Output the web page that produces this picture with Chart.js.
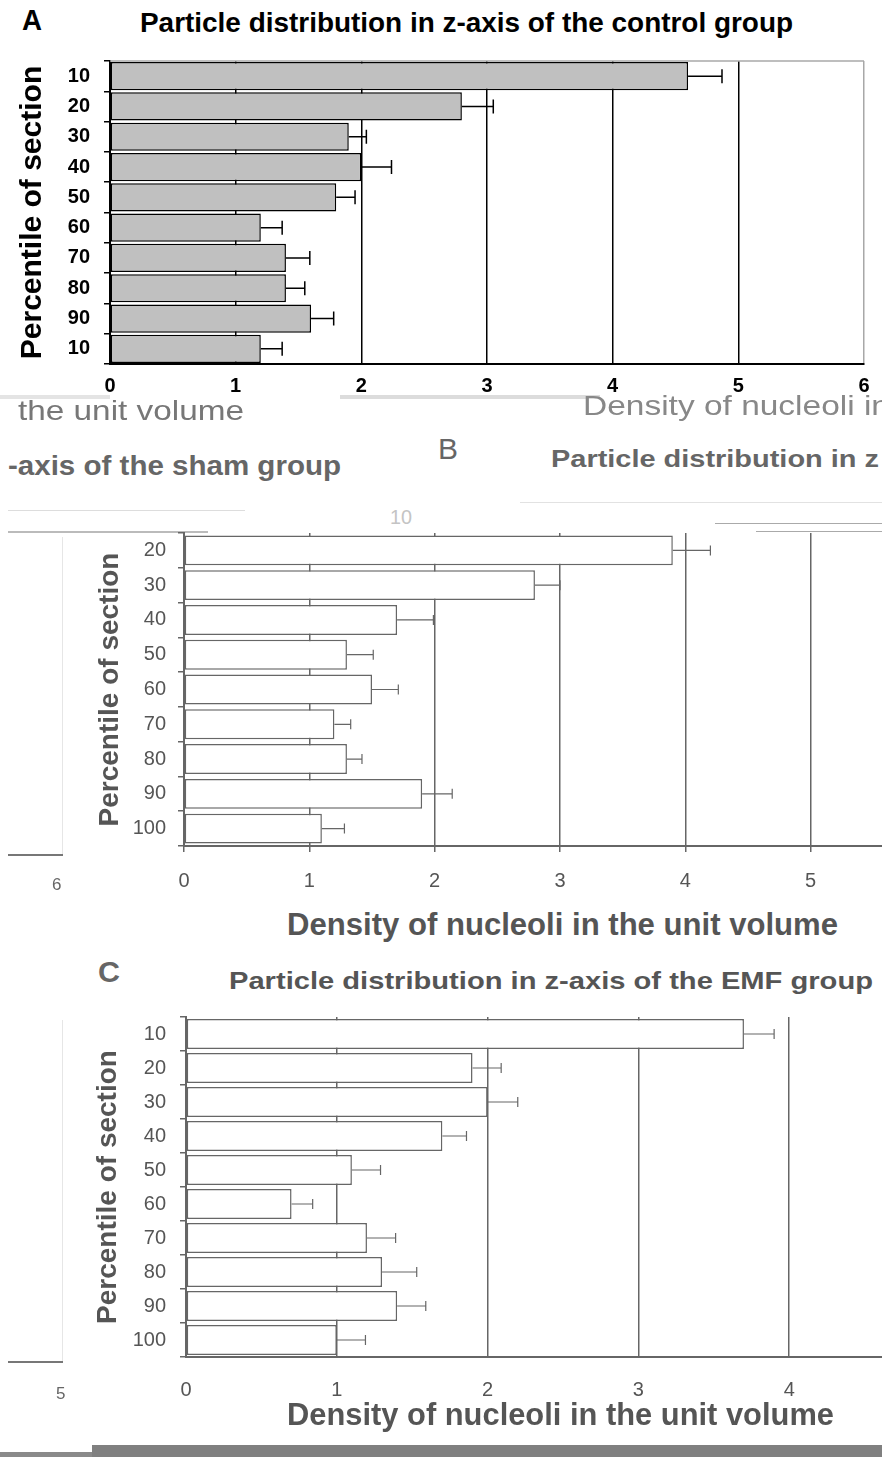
<!DOCTYPE html>
<html>
<head>
<meta charset="utf-8">
<script src="https://cdn.jsdelivr.net/npm/chart.js@4.4.0/dist/chart.umd.min.js"></script>
<style>
  body { margin: 0; background: #fff; }
  #page { position: relative; width: 882px; height: 1457px; overflow: hidden; background: #fff; }
  .t { position: absolute; white-space: nowrap; transform-origin: 0 0; line-height: 1; font-family: "Liberation Sans", Arial, sans-serif; }
  .n { font-family: "Liberation Sans Narrow", "Arial Narrow", "Liberation Sans", sans-serif; }
  canvas { position: absolute; left: 0; }
  .ln { position: absolute; }
</style>
</head>
<body>
<div id="page">
  <!-- panel A -->
  <div class="t" data-w="20" style="left:22px;top:5px;font-size:30px;font-weight:bold;color:#000">A</div>
  <div class="t n" data-w="653" style="left:140px;top:10px;font-size:27px;font-weight:bold;color:#000">Particle distribution in z-axis of the control group</div>
  <canvas id="chartA" width="882" height="370" style="top:40px"></canvas>

  <!-- leftovers between A and B -->
  <div class="ln" style="left:0;top:395px;width:110px;height:4px;background:#e4e4e4"></div>
  <div class="ln" style="left:340px;top:395px;width:260px;height:4px;background:#dcdcdc"></div>
  <div class="t n" data-w="226" style="left:18px;top:397px;font-size:28px;color:#777">the unit volume</div>
  <div class="t n" data-w="307" style="left:583px;top:392px;font-size:28px;color:#888">Density of nucleoli in</div>
  <div class="t n" data-w="333" style="left:8px;top:453px;font-size:27px;font-weight:bold;color:#666">-axis of the sham group</div>
  <div class="t" data-w="20" style="left:438px;top:434px;font-size:30px;color:#666">B</div>
  <div class="t" data-w="328" style="left:551px;top:447px;font-size:24px;font-weight:bold;color:#666">Particle distribution in z</div>
  <div class="ln" style="left:8px;top:510px;width:237px;height:1px;background:#ddd"></div>
  <div class="ln" style="left:8px;top:531px;width:200px;height:2px;background:#bbb"></div>
  <div class="ln" style="left:520px;top:502px;width:362px;height:1px;background:#e2e2e2"></div>
  <div class="ln" style="left:715px;top:523px;width:167px;height:1px;background:#aaa"></div>
  <div class="ln" style="left:756px;top:531px;width:126px;height:1px;background:#aaa"></div>
  <div class="t" data-w="22" style="left:390px;top:506px;font-size:21px;color:#c4c4c4">10</div>

  <!-- panel B -->
  <canvas id="chartB" width="960" height="400" style="top:500px"></canvas>
  <div class="t n" data-w="551" style="left:287px;top:909px;font-size:31px;font-weight:bold;color:#555">Density of nucleoli in the unit volume</div>
  <div class="ln" style="left:62px;top:537px;width:1px;height:318px;background:#e6e6e6"></div>
  <div class="ln" style="left:8px;top:854px;width:55px;height:2px;background:#777"></div>
  <div class="t" style="left:52px;top:876px;font-size:17px;color:#666">6</div>

  <!-- panel C -->
  <div class="t" data-w="22" style="left:98px;top:958px;font-size:29px;font-weight:bold;color:#666">C</div>
  <div class="t" data-w="644" style="left:229px;top:969px;font-size:24px;font-weight:bold;color:#555">Particle distribution in z-axis of the EMF group</div>
  <canvas id="chartC" width="960" height="400" style="top:1000px"></canvas>
  <div class="t n" data-w="547" style="left:287px;top:1399px;font-size:31px;font-weight:bold;color:#555">Density of nucleoli in the unit volume</div>
  <div class="ln" style="left:62px;top:1020px;width:1px;height:342px;background:#e6e6e6"></div>
  <div class="ln" style="left:8px;top:1361px;width:55px;height:2px;background:#777"></div>
  <div class="t" style="left:56px;top:1385px;font-size:17px;color:#666">5</div>

  <!-- strip at the bottom -->
  <div class="ln" style="left:0;top:1452px;width:92px;height:5px;background:#8a8a8a"></div>
  <div class="ln" style="left:92px;top:1445px;width:790px;height:12px;background:#808080"></div>
</div>

<script>
// A: control group
const catsA = ['10', '20', '30', '40', '50', '60', '70', '80', '90', '10'];
const valsA = [4.6, 2.8, 1.9, 2.0, 1.8, 1.2, 1.4, 1.4, 1.6, 1.2];
const errA = [0.27, 0.25, 0.14, 0.24, 0.15, 0.17, 0.19, 0.15, 0.18, 0.17];

// B: sham group (row 10 lost in the figure)
const catsB = ['20', '30', '40', '50', '60', '70', '80', '90', '100'];
const valsB = [3.9, 2.8, 1.7, 1.3, 1.5, 1.2, 1.3, 1.9, 1.1];
const errB = [0.3, 0.2, 0.29, 0.21, 0.21, 0.13, 0.12, 0.24, 0.18];

// C: EMF group
const catsC = ['10', '20', '30', '40', '50', '60', '70', '80', '90', '100'];
const valsC = [3.7, 1.9, 2.0, 1.7, 1.1, 0.7, 1.2, 1.3, 1.4, 1.0];
const errC = [0.2, 0.19, 0.2, 0.16, 0.19, 0.14, 0.19, 0.23, 0.19, 0.19];

const xMaxA = 6, xMaxB = 6, xMaxC = 5;

const ARIAL = '"Liberation Sans", Arial, sans-serif';

// whiskers to the right of each bar
const errorBars = {
    id: 'errorBars',
    afterDatasetsDraw(chart, args, opts) {
        const { ctx } = chart;
        const x = chart.scales.x;
        const ds = chart.data.datasets[0];
        const meta = chart.getDatasetMeta(0);
        ctx.save();
        ctx.strokeStyle = opts.color;
        ctx.lineWidth = opts.width;
        meta.data.forEach((bar, i) => {
            const x0 = x.getPixelForValue(ds.data[i]);
            const x1 = x.getPixelForValue(ds.data[i] + ds.errors[i]);
            ctx.beginPath();
            ctx.moveTo(x0, bar.y);
            ctx.lineTo(x1, bar.y);
            ctx.moveTo(x1, bar.y - opts.cap);
            ctx.lineTo(x1, bar.y + opts.cap);
            ctx.stroke();
        });
        ctx.restore();
    }
};

// thin top border of the plot area (panel A only)
const topFrame = {
    id: 'topFrame',
    beforeDatasetsDraw(chart, args, opts) {
        if (!opts.color) return;
        const { ctx, chartArea } = chart;
        ctx.save();
        ctx.strokeStyle = opts.color;
        ctx.lineWidth = 1.5;
        ctx.beginPath();
        ctx.moveTo(chartArea.left, chartArea.top);
        ctx.lineTo(chartArea.right, chartArea.top);
        ctx.stroke();
        ctx.restore();
    }
};

function noPad(sc) {
    sc.paddingTop = 0;
    sc.paddingBottom = 0;
    sc.paddingLeft = 0;
    sc.paddingRight = 0;
}

function makePanel(id, cats, vals, errs, s) {
    return new Chart(document.getElementById(id), {
        type: 'bar',
        data: {
            labels: cats,
            datasets: [{
                data: vals,
                errors: errs,
                backgroundColor: s.fill,
                borderColor: s.line,
                borderWidth: s.barBorder,
                borderSkipped: false,
                barPercentage: s.barPct,
                categoryPercentage: 1
            }]
        },
        options: {
            indexAxis: 'y',
            responsive: false,
            animation: false,
            events: [],
            layout: { padding: { top: s.top, right: s.right, left: 0, bottom: 0 } },
            plugins: {
                legend: { display: false },
                tooltip: { enabled: false },
                errorBars: { color: s.line, width: s.errWidth, cap: s.cap },
                topFrame: { color: s.frame }
            },
            scales: {
                x: {
                    min: 0,
                    max: s.xMax,
                    ticks: { stepSize: 1, color: s.text, padding: s.xPad, font: s.xFont },
                    grid: {
                        color: (c) => (c.tick && c.tick.value === 6 && s.frame) ? s.frame : s.grid,
                        lineWidth: 1.5,
                        drawTicks: s.xTicks,
                        tickLength: 6,
                        tickColor: s.line
                    },
                    border: { color: s.line, width: 2 },
                    afterFit: (sc) => { sc.height = s.xH; noPad(sc); }
                },
                y: {
                    ticks: { color: s.text, padding: s.yPad, font: s.yFont },
                    grid: { drawOnChartArea: false, tickLength: 6, color: s.line, lineWidth: 1.5 },
                    border: { color: s.line, width: 2 },
                    title: {
                        display: true,
                        text: 'Percentile of section',
                        color: s.text,
                        font: s.titleFont,
                        padding: { top: s.titlePad, bottom: 0 }
                    },
                    afterFit: (sc) => { sc.width = s.yW; noPad(sc); }
                }
            }
        },
        plugins: [errorBars, topFrame]
    });
}

makePanel('chartA', catsA, valsA, errA, {
    fill: '#c0c0c0', line: '#000', grid: '#000', frame: '#a8a8a8', text: '#000',
    barBorder: 1.5, barPct: 0.93, errWidth: 1.5, cap: 7,
    top: 21, right: 18, xH: 46, yW: 110, xMax: xMaxA,
    xTicks: false, xPad: 10, yPad: 14,
    xFont: { family: ARIAL, size: 20, weight: 'bold' },
    yFont: { family: ARIAL, size: 20, weight: 'bold' },
    titleFont: { family: ARIAL, size: 30, weight: 'bold', lineHeight: 1 },
    titlePad: 18
});

makePanel('chartB', catsB, valsB, errB, {
    fill: '#fff', line: '#666', grid: '#666', frame: null, text: '#555',
    barBorder: 1.5, barPct: 0.86, errWidth: 1.2, cap: 5,
    top: 33, right: 24, xH: 54, yW: 184, xMax: xMaxB,
    xTicks: true, xPad: 17, yPad: 12,
    xFont: { family: ARIAL, size: 20 },
    yFont: { family: ARIAL, size: 20 },
    titleFont: { family: ARIAL, size: 28, weight: 'bold', lineHeight: 1 },
    titlePad: 96
});

makePanel('chartC', catsC, valsC, errC, {
    fill: '#fff', line: '#666', grid: '#666', frame: null, text: '#555',
    barBorder: 1.5, barPct: 0.88, errWidth: 1.2, cap: 5,
    top: 17, right: 20, xH: 43, yW: 186, xMax: xMaxC,
    xTicks: false, xPad: 21, yPad: 14,
    xFont: { family: ARIAL, size: 20 },
    yFont: { family: ARIAL, size: 20 },
    titleFont: { family: ARIAL, size: 28, weight: 'bold', lineHeight: 1 },
    titlePad: 94
});

// squeeze the free text to the widths seen in the figure
document.querySelectorAll('.t[data-w]').forEach((el) => {
    const w = +el.dataset.w;
    const cur = el.getBoundingClientRect().width;
    if (cur > 0) el.style.transform = `scaleX(${w / cur})`;
});
</script>
</body>
</html>
